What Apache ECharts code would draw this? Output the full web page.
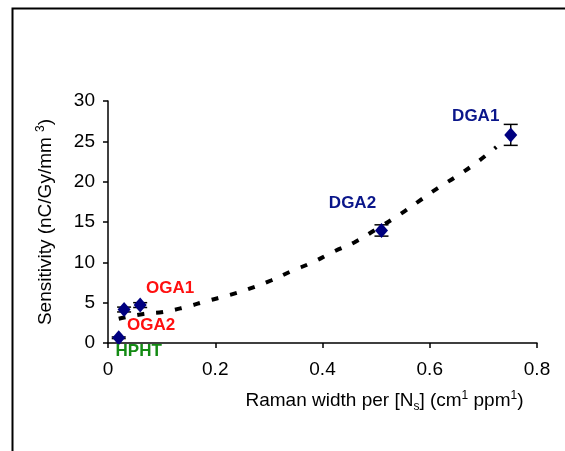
<!DOCTYPE html>
<html><head><meta charset="utf-8">
<script src="https://cdn.jsdelivr.net/npm/echarts@6/dist/echarts.min.js"></script>
<style>html,body{margin:0;padding:0;background:#fff}#c{width:565px;height:451px}</style>
</head><body><div id="c"></div>
<script>
// Samples
const names = ['HPHT', 'OGA2', 'OGA1', 'DGA2', 'DGA1'];
const ramanWidth = [0.020, 0.030, 0.060, 0.510, 0.751];
const sensitivity = [0.65, 4.15, 4.7, 13.95, 25.8];
const errors = [0.1, 0.3, 0.3, 0.7, 1.3];
const labelColors = ['#138a13', '#ff1010', '#ff1010', '#0a168a', '#0a168a'];
const labelOffsets = [[20, 14], [27, 16], [30, -17], [-29, -27], [-35, -19]];
// Trendline
const trendX = [0.02, 0.066, 0.103, 0.147, 0.184, 0.224, 0.261, 0.305, 0.342, 0.383, 0.42, 0.46, 0.50, 0.541, 0.578, 0.615, 0.653, 0.69, 0.724];
const trendY = [3.0, 3.6, 3.85, 4.5, 5.2, 5.9, 6.66, 7.78, 8.9, 10.05, 11.3, 12.5, 14.1, 15.8, 17.5, 19.2, 20.8, 22.5, 24.3];
const xTicks = [0, 0.2, 0.4, 0.6, 0.8];
const yTicks = [0, 5, 10, 15, 20, 25, 30];

const chart = echarts.init(document.getElementById('c'));
const font = 'Liberation Sans, Arial, sans-serif';
chart.setOption({
  animation: false,
  backgroundColor: '#fff',
  graphic: [{
    type: 'rect', left: 10, top: 6, shape: {width: 620, height: 520},
    style: {fill: 'none', stroke: '#000', lineWidth: 2}, silent: true, z: -1
  }],
  grid: {left: 108, top: 101, right: 28, bottom: 108, containLabel: false},
  xAxis: {
    type: 'value', min: xTicks[0], max: xTicks[xTicks.length - 1], interval: 0.2,
    axisLine: {lineStyle: {color: '#000', width: 1.5}},
    axisTick: {show: true, length: 5, lineStyle: {color: '#000', width: 1.5}},
    splitLine: {show: false},
    axisLabel: {color: '#000', fontSize: 19, fontFamily: font, margin: 17,
      formatter: v => (v === 0 ? '0' : String(+v.toFixed(1)))},
    name: '{n|Raman width per [N}{sub|s}{n|] (cm}{sup|1}{n| ppm}{sup|1}{n|)}',
    nameLocation: 'middle', nameGap: 47,
    nameTextStyle: {
      padding: [0, 0, 0, 124],
      rich: {
        n: {fontSize: 19, fontFamily: font, color: '#000', lineHeight: 22, verticalAlign: 'middle'},
        sub: {fontSize: 12, fontFamily: font, color: '#000', lineHeight: 22, verticalAlign: 'middle', padding: [12, 0, 0, 0]},
        sup: {fontSize: 12, fontFamily: font, color: '#000', lineHeight: 22, verticalAlign: 'middle', padding: [0, 0, 10, 0]}
      }
    }
  },
  yAxis: {
    type: 'value', min: yTicks[0], max: yTicks[yTicks.length - 1], interval: 5,
    axisLine: {show: true, lineStyle: {color: '#000', width: 1.5}},
    axisTick: {show: true, length: 5, lineStyle: {color: '#000', width: 1.5}},
    splitLine: {show: false},
    axisLabel: {color: '#000', fontSize: 19, fontFamily: font, margin: 13, padding: [0, 0, 4, 0]},
    name: '{n|Sensitivity (nC/Gy/mm }{sup|3}{n|)}',
    nameLocation: 'middle', nameGap: 51,
    nameTextStyle: {
      rich: {
        n: {fontSize: 19, fontFamily: font, color: '#000', lineHeight: 22},
        sup: {fontSize: 12, fontFamily: font, color: '#000', verticalAlign: 'top', lineHeight: 14}
      }
    }
  },
  series: [
    {
      type: 'line', data: trendX.map((x, i) => [x, trendY[i]]), smooth: true,
      symbol: 'none', lineStyle: {color: '#000', width: 4, type: [7, 12]}, z: 1
    },
    {
      type: 'custom', z: 2,
      data: ramanWidth.map((x, i) => [x, sensitivity[i] - errors[i], sensitivity[i] + errors[i]]),
      renderItem: (params, api) => {
        const lo = api.coord([api.value(0), api.value(1)]);
        const hi = api.coord([api.value(0), api.value(2)]);
        const w = 7;
        const st = {stroke: '#000', lineWidth: 1.5};
        return {type: 'group', children: [
          {type: 'line', shape: {x1: lo[0], y1: lo[1], x2: hi[0], y2: hi[1]}, style: st},
          {type: 'line', shape: {x1: lo[0] - w, y1: lo[1], x2: lo[0] + w, y2: lo[1]}, style: st},
          {type: 'line', shape: {x1: hi[0] - w, y1: hi[1], x2: hi[0] + w, y2: hi[1]}, style: st}
        ]};
      }
    },
    {
      type: 'scatter', z: 3, symbol: 'diamond', symbolSize: [13, 15],
      itemStyle: {color: '#000080', opacity: 1},
      data: ramanWidth.map((x, i) => ({
        value: [x, sensitivity[i]], name: names[i],
        label: {show: true, formatter: names[i], position: 'inside', offset: labelOffsets[i],
          color: labelColors[i], fontSize: 17, fontWeight: 'bold', fontFamily: font, opacity: 1}
      }))
    }
  ]
});
</script></body></html>
